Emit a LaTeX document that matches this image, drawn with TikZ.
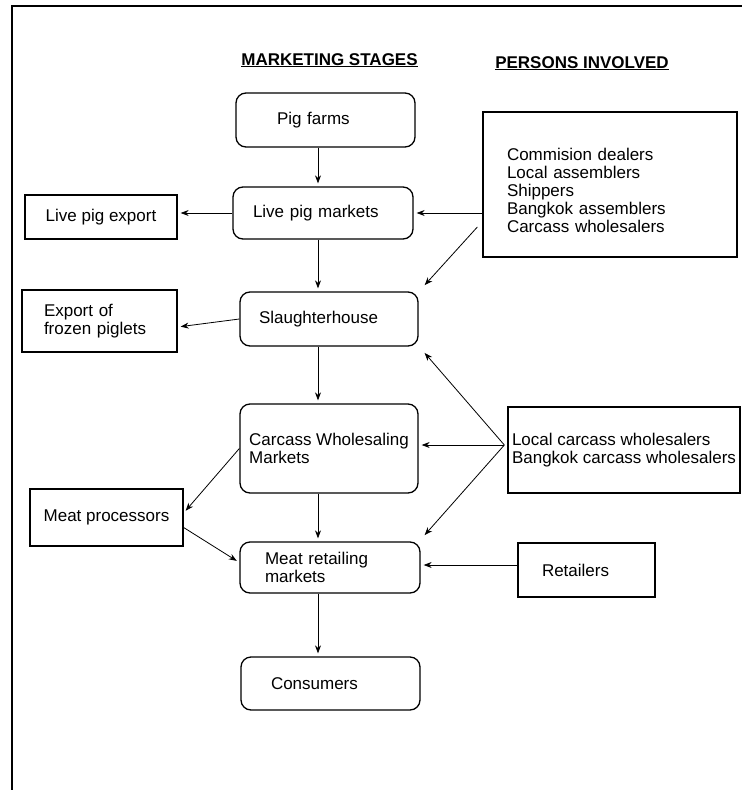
\documentclass[tikz,border=0pt]{standalone}
\usepackage{fontspec}
\setmainfont{Liberation Sans}
\usetikzlibrary{arrows.meta}

\begin{document}
\begin{tikzpicture}[x=1pt,y=-1pt,
        every node/.style={font=\fontsize{17}{18}\selectfont,align=left},
        stage/.style={draw,line width=1.3pt,rounded corners=10pt,inner sep=0pt},
        plain/.style={draw,line width=1.3pt,inner sep=0pt},
        arr/.style={-{Stealth[length=8pt,width=6pt]},line width=0.8pt,shorten >=3pt}]
        \useasboundingbox (0,0) rectangle (742,790);

        % Draw the frame
        \draw[line width=1.6pt] (12,790) -- (12,6) -- (742,6);

        % Headings
        \node[anchor=base] (mshead) at (329.5,65) {\bfseries\underline{MARKETING STAGES}};
        \node[anchor=base] (pihead) at (582,68) {\bfseries\underline{PERSONS INVOLVED}};

        % Marketing stages
        \node[stage,minimum height=54,inner xsep=41,text width=97] (farms) at (325.5,120) {Pig farms};
        \node[stage,minimum height=52,inner xsep=20,text width=140] (livemkt) at (323,213) {Live pig markets};
        \node[stage,minimum height=54,inner xsep=19,text width=140] (slaughter) at (329,319) {Slaughterhouse};
        \node[stage,minimum width=178,minimum height=89] (carcass) at (329,448.5) {Carcass Wholesaling\\Markets};
        \node[stage,minimum height=51,inner xsep=25,text width=130] (retail) at (330,567.5) {Meat retailing\\markets};
        \node[stage,minimum height=53,inner xsep=30,text width=119] (consumers) at (330.5,683.5) {Consumers};

        % Outlets on the left
        \node[plain,minimum width=152,minimum height=44] (lpexport) at (101,217) {Live pig export};
        \node[plain,minimum height=62,inner xsep=22,text width=111] (frozen) at (99.5,321) {Export of\\frozen piglets};
        \node[plain,minimum width=153,minimum height=57] (processors) at (106.5,517.5) {Meat processors};

        % Persons involved
        \node[plain,minimum height=145,text width=206,inner xsep=24] (persons) at (610,184.5)
            {\rule{0pt}{24pt}Commision dealers\\Local assemblers\\Shippers\\Bangkok assemblers\\Carcass wholesalers};
        \node[plain,minimum width=232,minimum height=86] (carcwh) at (624,450)
            {Local carcass wholesalers\\Bangkok carcass wholesalers};
        \node[plain,minimum height=54,inner xsep=24,text width=89] (retailers) at (586.5,570) {Retailers};

        % Flow down the stages
        \coordinate (spine) at (318,0);
        \foreach \a/\b in {farms/livemkt,livemkt/slaughter,slaughter/carcass,carcass/retail,retail/consumers}
            \draw[arr] (\a.south -| spine) -- (\b.north -| spine);

        % Flow out to the left
        \draw[arr] (livemkt.west) -- (livemkt.west -| lpexport.east);
        \draw[arr] (slaughter.west) -- ([yshift=-6pt]frozen.east);
        \draw[arr] (carcass.west) -- ([yshift=4.5pt]processors.east);
        \draw[arr] ([yshift=-10pt]processors.east) -- ([yshift=5pt]retail.west);

        % Persons at each stage
        \draw[arr] (livemkt.east -| persons.west) -- (livemkt.east);
        \draw[arr] ([xshift=-5pt,yshift=-42.5pt]persons.west) -- ([xshift=4pt,yshift=4pt]slaughter.north east);
        \coordinate (cw) at ([xshift=-3pt,yshift=5pt]carcwh.west);
        \draw[arr] (cw) -- ([xshift=4pt,yshift=-4pt]slaughter.south east);
        \draw[arr] (cw) -- (cw -| carcass.east);
        \draw[arr] (cw) -- ([xshift=2pt,yshift=4pt]retail.north east);
        \draw[arr] ([yshift=5pt]retailers.west) -- ([yshift=5pt]retailers.west -| retail.east);
\end{tikzpicture}
\end{document}
